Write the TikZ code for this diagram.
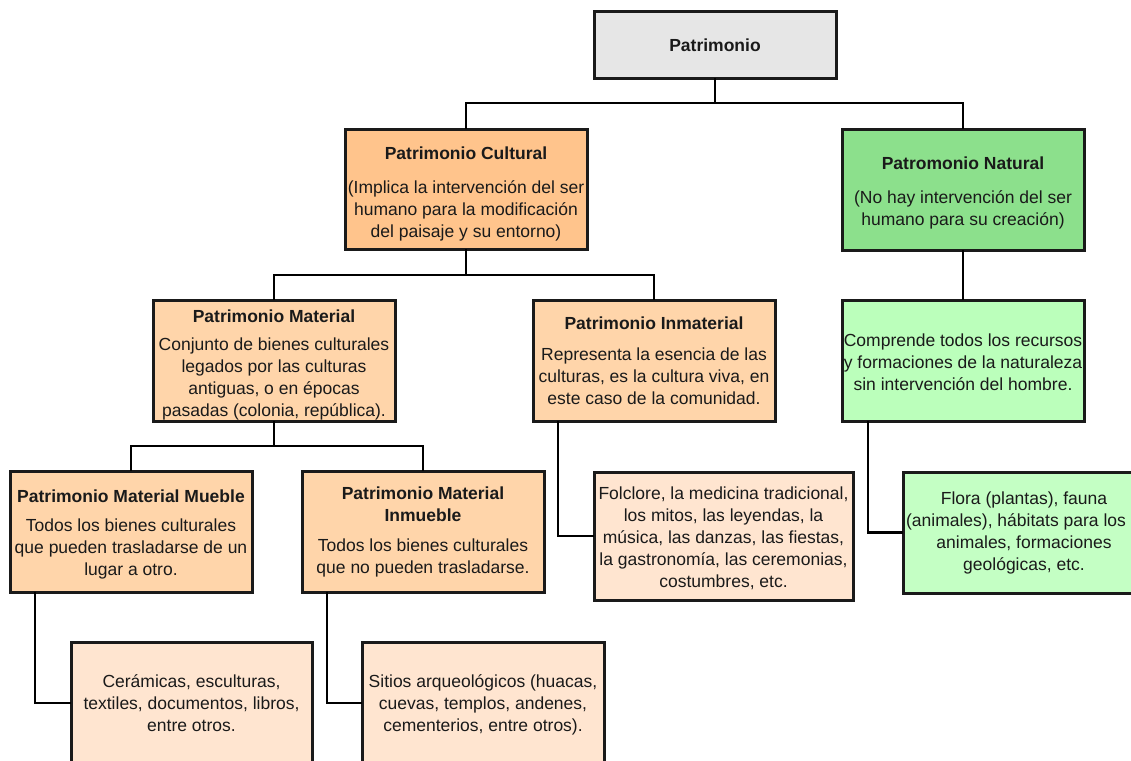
\documentclass[tikz,border=0pt]{standalone}
\usepackage{fontspec}
\setmainfont{Liberation Sans}
\definecolor{cGray}{HTML}{E6E6E6}
\definecolor{cCult}{HTML}{FFC48C}
\definecolor{cNat}{HTML}{8CE08C}
\definecolor{cMat}{HTML}{FFD5AA}
\definecolor{cLeaf}{HTML}{FFE5D0}
\definecolor{cGreenA}{HTML}{BBFFBB}
\definecolor{cGreenB}{HTML}{C4FFC4}
\definecolor{cEdge}{HTML}{1A1A1A}
\newcommand{\toppad}[1]{\rule{0pt}{#1pt}}
\tikzset{
  box/.style={draw=cEdge, line width=3pt, rectangle, anchor=north west,
    inner sep=0pt, outer sep=0pt, minimum width=242pt, minimum height=121pt,
    align=center, font=\fontsize{17.5}{22}\selectfont, text=cEdge},
  link/.style={draw=black, line width=2.6pt}
}
\begin{document}
\begin{tikzpicture}[x=1pt,y=-1pt]
\useasboundingbox (0,0) rectangle (1131,760);
\clip (0,0) rectangle (1131,760);
% boxes
\node[box, fill=cGray, minimum height=66pt] (pat) at (594,12) {\textbf{Patrimonio}};
\node[box, fill=cCult, minimum height=120pt] (cul) at (345,129)
  {\toppad{23}\textbf{Patrimonio Cultural}\\[12pt](Implica la intervención del ser\\humano para la modificación\\del paisaje y su entorno)};
\node[box, fill=cNat] (nat) at (842,129)
  {\toppad{20}\textbf{Patromonio Natural}\\[12pt](No hay intervención del ser\\humano para su creación)};
\node[box, fill=cMat] (mat) at (153,300)
  {\toppad{21}\textbf{Patrimonio Material}\\[6pt]Conjunto de bienes culturales\\legados por las culturas\\antiguas, o en épocas\\pasadas (colonia, república).};
\node[box, fill=cMat] (inm) at (533,300)
  {\textbf{Patrimonio Inmaterial}\\[9pt]Representa la esencia de las\\culturas, es la cultura viva, en\\este caso de la comunidad.};
\node[box, fill=cGreenA] (com) at (842,300)
  {\toppad{17}Comprende todos los recursos\\y formaciones de la naturaleza\\sin intervención del hombre.};
\node[box, fill=cMat] (mue) at (10,471)
  {\toppad{19}\textbf{Patrimonio Material Mueble}\\[7pt]Todos los bienes culturales\\que pueden trasladarse de un\\lugar a otro.};
\node[box, fill=cMat] (inmu) at (302,471)
  {\textbf{Patrimonio Material}\\\textbf{Inmueble}\\[8pt]Todos los bienes culturales\\que no pueden trasladarse.};
\node[box, fill=cLeaf, minimum width=259pt, minimum height=128pt] (fol) at (594,472)
  {\toppad{17}Folclore, la medicina tradicional,\\los mitos, las leyendas, la\\música, las danzas, las fiestas,\\la gastronomía, las ceremonias,\\costumbres, etc.};
\node[box, fill=cGreenB] (flo) at (903,472)
  {Flora (plantas), fauna\\\hspace*{-16pt}(animales), hábitats para los\\animales, formaciones\\geológicas, etc.};
\node[box, fill=cLeaf, minimum width=241pt, minimum height=122pt] (cer) at (71,642)
  {Cerámicas, esculturas,\\textiles, documentos, libros,\\entre otros.};
\node[box, fill=cLeaf, minimum height=122pt] (sit) at (362,642)
  {\toppad{17}Sitios arqueológicos (huacas,\\cuevas, templos, andenes,\\cementerios, entre otros).};
% junctions
\coordinate (j1) at (715,103);
\coordinate (j2) at (466,275);
\coordinate (j3) at (274,446);
% connectors
\draw[link] (pat.south) -- (j1);
\draw[link] (cul.north) |- (j1) -| (nat.north);
\draw[link] (cul.south) -- (j2);
\draw[link] (mat.north) |- (j2) -| (inm.north);
\draw[link] (nat.south) -- (com.north);
\draw[link] (mat.south) -- (j3);
\draw[link] (mue.north) |- (j3) -| (inmu.north);
\draw[link] (inm.south -| 558,0) |- (fol.west);
\draw[link] (com.south -| 868,0) |- (flo.west);
\draw[link] (mue.south -| 35,0) |- (cer.west);
\draw[link] (inmu.south -| 327,0) |- (sit.west);
\end{tikzpicture}
\end{document}
